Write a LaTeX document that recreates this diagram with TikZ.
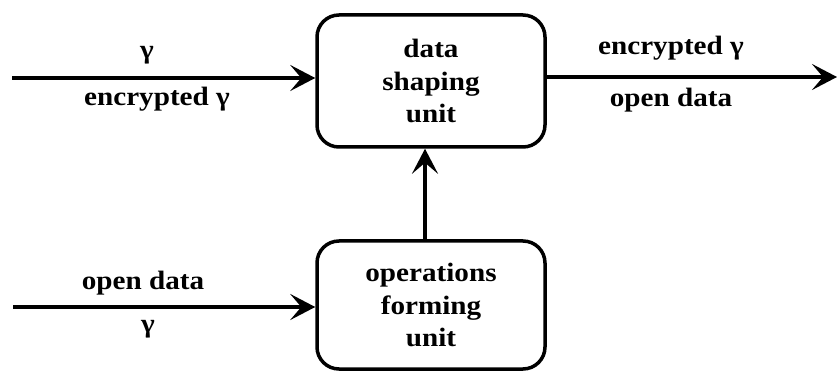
\documentclass[tikz,border=0pt]{standalone}
\usepackage{fontspec}
\setmainfont[FakeStretch=1.1]{Liberation Serif}
\usetikzlibrary{arrows.meta}
\tikzset{
  unitbox/.style={draw, line width=3.5pt, rounded corners=22pt, minimum width=228pt, align=center, inner sep=0pt, font=\fontsize{26.5}{32.5}\selectfont\bfseries},
  lbl/.style={anchor=base, inner sep=0pt, font=\fontsize{26.5}{32}\selectfont\bfseries},
  flow/.style={line width=3.5pt, -{Stealth[length=25pt,width=26pt,inset=11pt]}}
}
\begin{document}
\begin{tikzpicture}[x=1pt,y=-1pt]
\useasboundingbox (0,0) rectangle (838,371);
\node[unitbox, minimum height=132pt] (shape) at (431,81) {data\\shaping\\unit};
\node[unitbox, minimum height=128pt] (ops) at (431,305) {operations\\forming\\unit};
\coordinate (inA) at (12,78);
\coordinate (outA) at (837,77);
\coordinate (inB) at (13,307);
\coordinate (v) at (425,200);
\draw[flow] (inA) -- (shape.west |- inA);
\draw[flow] (shape.east |- outA) -- (outA);
\draw[flow] (inB) -- (ops.west |- inB);
\draw[flow] (ops.north -| v) -- (shape.south -| v);
\node[lbl] (g1) at (147,59) {γ};
\node[lbl] (e1) at (157,106) {encrypted γ};
\node[lbl] (e2) at (671,55) {encrypted γ};
\node[lbl] (o2) at (671,107) {open data};
\node[lbl] (o3) at (143,290) {open data};
\node[lbl] (g3) at (148,333) {γ};
\end{tikzpicture}
\end{document}
